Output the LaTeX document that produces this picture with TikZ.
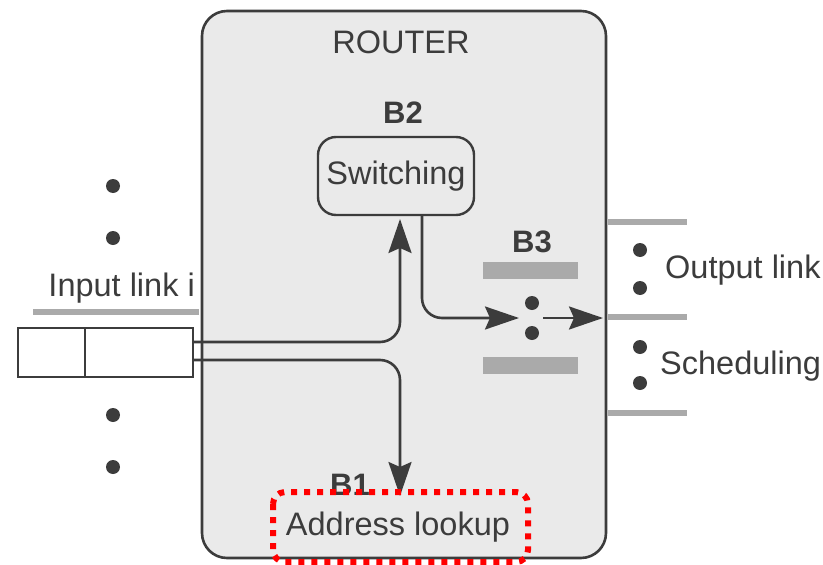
\documentclass[tikz,border=0pt]{standalone}
\usepackage{fontspec}
\setmainfont{Liberation Sans}
\usetikzlibrary{arrows.meta}
\definecolor{ink}{HTML}{3C3C3C}
\definecolor{bar}{HTML}{AAAAAA}
\definecolor{routerfill}{HTML}{EAEAEA}
\tikzset{
  lbl/.style={font=\fontsize{32.5}{39}\selectfont, text=ink, inner sep=0pt},
  blbl/.style={font=\fontsize{31}{37}\selectfont\bfseries, text=ink, inner sep=0pt},
  wire/.style={draw=ink, line width=2.6pt, rounded corners=20pt},
  arr/.style={-{Stealth[length=34pt,width=23pt,inset=5pt]}},
  dotc/.style={circle, fill=ink, inner sep=0pt, minimum size=14pt},
  grayline/.style={draw=bar, line width=6pt},
}
\begin{document}
\begin{tikzpicture}[x=1pt,y=-1pt]
\useasboundingbox (0,0) rectangle (823,565);
% router
\draw[draw=ink, line width=2.6pt, fill=routerfill, rounded corners=25pt] (202,11) rectangle (606,558);
\node[lbl] (router) at (401,42) {ROUTER};
% switching
\node[blbl] (b2) at (403,113) {B2};
\node[lbl, draw=ink, line width=2.4pt, rounded corners=18pt, minimum width=156pt, minimum height=78pt, fill=routerfill] (sw) at (396,176) {Switching};
% B3
\node[blbl] (b3) at (532,242) {B3};
\fill[bar] (483,262) rectangle (578,279);
\fill[bar] (483,357) rectangle (578,374);
\node[dotc] (d3a) at (532,303) {};
\node[dotc] (d3b) at (532,333) {};
\coordinate (b3in) at (519,318);
\coordinate (b3out) at (543,318);
\coordinate (outp) at (603,318);
\draw[wire, arr] (422,215) -- (422,318) -- (b3in);
\draw[draw=ink, line width=2.6pt, arr] (b3out) -- (outp);
% input link
\draw[grayline] (33,312) -- (199,312);
\node[lbl, anchor=east] (inlbl) at (195,288) {Input link i};
\draw[draw=ink, line width=2pt, fill=white] (18,328) rectangle (193,377);
\draw[draw=ink, line width=2pt] (85,328) -- (85,377);
\coordinate (inU) at (193,342);
\coordinate (inL) at (193,360);
\coordinate (swin) at (400,219);
\draw[wire, arr] (inU) -- (400,342) -- (swin);
% B1
\node[blbl] (b1) at (350,485) {B1};
\coordinate (alin) at (400,496);
\draw[wire, arr] (inL) -- (400,360) -- (alin);
\node[lbl] (al) at (398,527) {Address lookup};
\draw[draw=red, line width=6pt, dash pattern=on 6pt off 7pt, rounded corners=12pt] (273,492) rectangle (528,562);
% left dots
\node[dotc] (l1) at (113,186) {};
\node[dotc] (l2) at (113,238) {};
\node[dotc] (l3) at (113,415) {};
\node[dotc] (l4) at (113,467) {};
% right
\draw[grayline] (608,222) -- (687,222);
\draw[grayline] (608,317) -- (687,317);
\draw[grayline] (608,413) -- (687,413);
\node[dotc] (r1) at (640,250) {};
\node[dotc] (r2) at (640,288) {};
\node[dotc] (r3) at (640,347) {};
\node[dotc] (r4) at (640,383) {};
\node[lbl, anchor=west] (outl) at (665,270) {Output link};
\node[lbl, anchor=west] (sched) at (660,366) {Scheduling};
\end{tikzpicture}
\end{document}
